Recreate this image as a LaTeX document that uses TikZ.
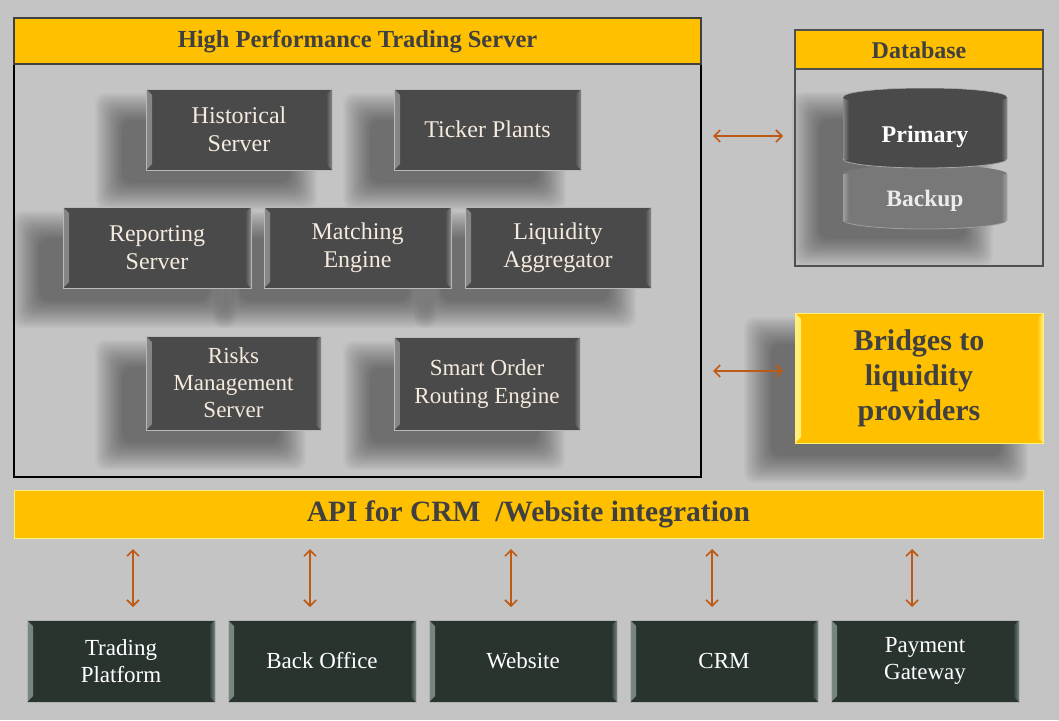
\documentclass[tikz,border=0pt]{standalone}
\usepackage{fontspec}
\setmainfont{Liberation Serif}
\usetikzlibrary{arrows.meta,calc}
\definecolor{bg}{RGB}{196,196,196}
\definecolor{gold}{RGB}{255,192,0}
\definecolor{goldlight}{RGB}{255,240,120}
\definecolor{darkfill}{RGB}{74,74,74}
\definecolor{darkbev}{RGB}{135,135,135}
\definecolor{greenfill}{RGB}{41,52,47}
\definecolor{greenbev}{RGB}{120,135,128}
\definecolor{hdrtext}{RGB}{64,64,64}
\definecolor{cream}{RGB}{245,234,222}
\definecolor{arrowc}{RGB}{190,90,20}
\definecolor{framegray}{RGB}{80,80,80}
\definecolor{backupfill}{RGB}{120,120,120}
\newcommand{\softshadow}[4]{%
  \foreach \k in {0,...,17}{%
    \fill[black,opacity=0.026,rounded corners=10pt]
      ({#1-18+1.6*\k},{#2-18+1.6*\k}) rectangle ({#3+18-1.6*\k},{#4+18-1.6*\k});
  }%
}
\tikzset{
  bevel/.style 2 args={path picture={
    \shade[left color=#2, right color=#1]
      (path picture bounding box.north west) -- ([xshift=6pt,yshift=-6pt]path picture bounding box.north west)
      -- ([xshift=6pt,yshift=6pt]path picture bounding box.south west) -- (path picture bounding box.south west) -- cycle;
    \shade[left color=#1, right color=#2]
      (path picture bounding box.north east) -- ([xshift=-6pt,yshift=-6pt]path picture bounding box.north east)
      -- ([xshift=-6pt,yshift=6pt]path picture bounding box.south east) -- (path picture bounding box.south east) -- cycle;
  }},
  darkbox/.style={fill=darkfill, draw=gray!55!white, line width=1pt, text=cream, align=center, inner sep=0pt,
    font=\fontsize{24}{28}\selectfont, bevel={darkfill}{darkbev}},
  greenbox/.style={fill=greenfill, draw=gray!60!white, line width=0.8pt, text=white, align=center, inner sep=0pt,
    minimum width=188pt, minimum height=82pt, font=\fontsize{23}{27}\selectfont, bevel={greenfill}{greenbev}},
  goldbar/.style={fill=gold, draw=hdrtext, line width=1.5pt},
  hdrlabel/.style={text=hdrtext, font=\bfseries\fontsize{#1}{#1}\selectfont, inner sep=0pt},
  link/.style={draw=arrowc, line width=1.6pt, {Straight Barb[length=6pt,width=12pt]}-{Straight Barb[length=6pt,width=12pt]}},
}
\begin{document}
\begin{tikzpicture}[x=1pt,y=-1pt]
\useasboundingbox (0,0) rectangle (1059,720);
\fill[bg] (0,0) rectangle (1059,720);

% shadows
\softshadow{113}{111}{299}{192}
\softshadow{361}{111}{548}{192}
\softshadow{30}{229}{218}{310}
\softshadow{231}{229}{418}{310}
\softshadow{432}{229}{618}{310}
\softshadow{113}{358}{288}{452}
\softshadow{361}{359}{547}{452}
\softshadow{810}{110}{975}{248}
\softshadow{762}{335}{1010}{465}

% main server frame
\draw[black, line width=2pt] (14,18) rectangle (701,477);
\draw[goldbar] (14,18) rectangle (701,64);
\node[hdrlabel=24.5] (hpts) at (357.5,41.5) {High Performance Trading Server};

\node[darkbox, minimum width=186pt, minimum height=81pt] (hist) at (239,129.5) {Historical\\Server};
\node[darkbox, minimum width=187pt, minimum height=81pt] (ticker) at (487.5,129.5) {Ticker Plants};
\node[darkbox, minimum width=188pt, minimum height=81pt] (report) at (157,247.5) {Reporting\\Server};
\node[darkbox, minimum width=187pt, minimum height=81pt] (match) at (357.5,247.5) {Matching\\Engine};
\node[darkbox, minimum width=186pt, minimum height=81pt] (liq) at (558,247.5) {Liquidity\\Aggregator};
\node[darkbox, minimum width=175pt, minimum height=94pt, font=\fontsize{23}{27}\selectfont] (risk) at (233.5,383) {Risks\\Management\\Server};
\node[darkbox, minimum width=186pt, minimum height=93pt, font=\fontsize{23}{28}\selectfont] (sor) at (487,383.5) {Smart Order\\Routing Engine};

% database
\draw[framegray, line width=2pt] (795,30) rectangle (1043,266);
\draw[goldbar, draw=framegray] (795,30) rectangle (1043,69);
\node[hdrlabel=24] (dbtitle) at (919,50) {Database};

% backup cylinder
\fill[backupfill] (843,174) -- (843,220) arc[start angle=180,end angle=360,x radius=82pt,y radius=9pt]
  -- (1007,174) arc[start angle=0,end angle=180,x radius=82pt,y radius=9pt] -- cycle;
\shade[left color=gray!75!white, right color=backupfill] (843,174) rectangle (849,220);
\shade[left color=backupfill, right color=gray!75!white] (1001,174) rectangle (1007,220);
\draw[gray!75!white, line width=0.8pt] (843,220) arc[start angle=180,end angle=360,x radius=82pt,y radius=9pt];
% primary cylinder
\fill[darkfill] (843,97) -- (843,159) arc[start angle=180,end angle=360,x radius=82pt,y radius=9pt]
  -- (1007,97) arc[start angle=0,end angle=180,x radius=82pt,y radius=9pt] -- cycle;
\shade[left color=darkbev, right color=darkfill] (843,97) rectangle (849,159);
\shade[left color=darkfill, right color=darkbev] (1001,97) rectangle (1007,159);
\fill[darkfill] (925,97) ellipse[x radius=82pt, y radius=9pt];
\draw[gray!50!white, line width=0.5pt] (843,97) arc[start angle=180,end angle=0,x radius=82pt,y radius=9pt];
\draw[gray!70!white, line width=0.8pt] (843,159) arc[start angle=180,end angle=360,x radius=82pt,y radius=9pt];
\node[text=white, font=\bfseries\fontsize{24}{24}\selectfont, inner sep=0pt] (primary) at (925,137) {Primary};
\node[text=white!92!black, font=\bfseries\fontsize{23.5}{24}\selectfont, inner sep=0pt] (backup) at (925,201) {Backup};

% bridges
\node[fill=gold, draw=goldlight, line width=1pt, minimum width=248pt, minimum height=130pt, inner sep=0pt,
  text=hdrtext, align=center, font=\bfseries\fontsize{30}{35}\selectfont, bevel={gold}{goldlight}] (bridges) at (919,378)
  {Bridges to\\liquidity\\providers};

% API bar
\node[fill=gold, draw=goldlight, line width=1pt, minimum width=1029pt, minimum height=48pt, inner sep=0pt,
  text=hdrtext, font=\bfseries\fontsize{29.5}{30}\selectfont] (api) at (528.5,514) {API for CRM ~/Website integration};

% bottom boxes
\node[greenbox] (tp) at (121,661) {Trading\\Platform};
\node[greenbox] (bo) at (322,661) {Back Office};
\node[greenbox] (web) at (523,661) {Website};
\node[greenbox] (crm) at (724,661) {CRM};
\node[greenbox] (pg) at (925,661) {Payment\\Gateway};

% connectors
\coordinate (dbL) at (713,136); \coordinate (dbR) at (783,136);
\coordinate (brL) at (713,371); \coordinate (brR) at (783,371);
\draw[link] (dbL) -- (dbR);
\draw[link] (brL) -- (brR);
\foreach \n/\x in {1/133,2/310,3/511,4/712,5/912}{
  \coordinate (up\n) at (\x,549);
  \coordinate (dn\n) at (\x,607);
  \draw[link] (up\n) -- (dn\n);
}
\end{tikzpicture}
\end{document}
